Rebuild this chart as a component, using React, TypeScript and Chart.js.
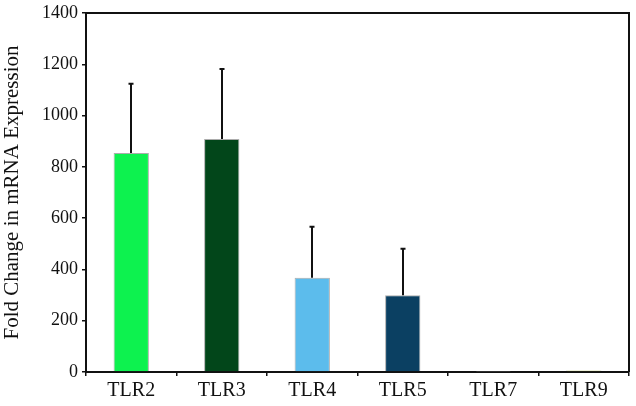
import React, { useEffect, useRef } from "react";
import { Chart, registerables } from "chart.js";

Chart.register(...registerables);

const categories = ["TLR2", "TLR3", "TLR4", "TLR5", "TLR7", "TLR9"];
const values = [854, 909, 368, 299, 1, 6];
const errors = [270, 273, 198, 182, 0, 0];
const barColors = ["#0DF24F", "#02461A", "#5CBCEC", "#0B4062", "#E0E0E0", "#CCDD33"];
const yTicks = [0, 200, 400, 600, 800, 1000, 1200, 1400];

const errorBarPlugin = {
  id: "errorBars",
  afterDatasetsDraw(chart: any) {
    const ctx = chart.ctx;
    const meta = chart.getDatasetMeta(0);
    const yScale = chart.scales.y;
    ctx.save();
    ctx.strokeStyle = "#111";
    ctx.lineWidth = 2;
    meta.data.forEach((bar: any, i: number) => {
      const err = errors[i];
      if (!err) return;
      const x = Math.round(bar.x);
      const yTop = yScale.getPixelForValue(values[i] + err);
      const yBar = yScale.getPixelForValue(values[i]);
      ctx.beginPath();
      ctx.moveTo(x, yBar);
      ctx.lineTo(x, yTop);
      ctx.moveTo(x - 2.5, yTop);
      ctx.lineTo(x + 2.5, yTop);
      ctx.stroke();
    });
    ctx.restore();
  },
};

const framePlugin = {
  id: "frame",
  afterDraw(chart: any) {
    const { ctx, chartArea } = chart;
    ctx.save();
    ctx.strokeStyle = "#111";
    ctx.lineWidth = 2;
    ctx.beginPath();
    ctx.moveTo(chartArea.left, chartArea.top);
    ctx.lineTo(chartArea.right, chartArea.top);
    ctx.lineTo(chartArea.right, chartArea.bottom);
    ctx.stroke();
    ctx.restore();
  },
};

export default function App() {
  const ref = useRef<HTMLCanvasElement | null>(null);
  useEffect(() => {
    if (!ref.current) return;
    const chart = new Chart(ref.current, {
      type: "bar",
      data: {
        labels: categories,
        datasets: [
          {
            data: values,
            backgroundColor: barColors,
            borderColor: "rgba(90,90,90,0.5)",
            borderWidth: 1,
            categoryPercentage: 1,
            barPercentage: 0.39,
          },
        ],
      },
      options: {
        animation: false,
        responsive: false,
        layout: { padding: { top: 13, right: 7, left: 0, bottom: 0 } },
        plugins: { legend: { display: false }, tooltip: { enabled: false } },
        scales: {
          x: {
            grid: { display: true, drawOnChartArea: false, drawTicks: true, tickLength: 4, color: "#111", lineWidth: 1.5, offset: true },
            border: { display: true, color: "#111", width: 2 },
            ticks: { color: "#111", font: { family: "Liberation Serif", size: 20 }, padding: 3 },
            afterFit(scale: any) { scale.height = 34; },
          },
          y: {
            min: 0,
            max: 1400,
            afterBuildTicks(scale: any) { scale.ticks = yTicks.map((v) => ({ value: v })); },
            grid: { display: true, drawOnChartArea: false, drawTicks: true, tickLength: 4, color: "#111", lineWidth: 1.5 },
            border: { display: true, color: "#111", width: 2 },
            ticks: {
              color: "#111",
              font: { family: "Liberation Serif", size: 18 },
              padding: 4,
              callback: (v: any) => String(v),
            },
            title: { display: true, text: "Fold Change in mRNA Expression", color: "#111", font: { family: "Liberation Serif", size: 21 }, padding: { top: 0, bottom: 2 } },
            afterFit(scale: any) {
              scale.width = 86;
              scale.paddingTop = 0;
              scale.paddingBottom = 0;
            },
          },
        },
      },
      plugins: [errorBarPlugin, framePlugin],
    });
    return () => chart.destroy();
  }, []);
  return (
    <div style={{ position: "absolute", left: 0, top: 0, width: 636, height: 406, background: "#fff" }}>
      <canvas ref={ref} width={636} height={406} style={{ width: 636, height: 406 }} />
    </div>
  );
}
